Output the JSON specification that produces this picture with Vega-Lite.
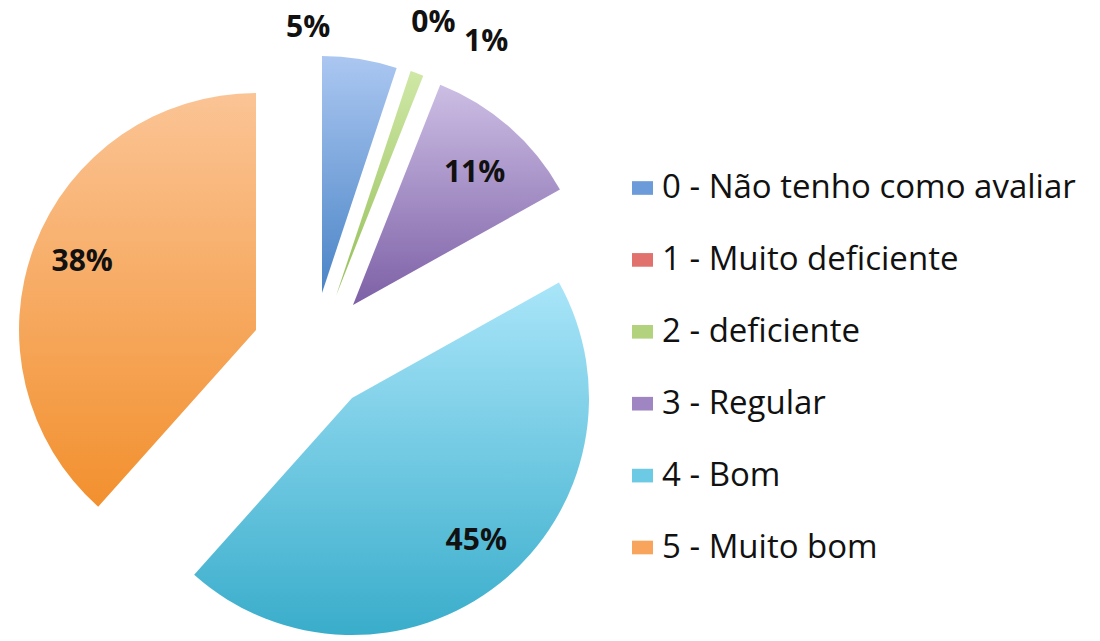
{
  "$schema": "https://vega.github.io/schema/vega-lite/v6.json",
  "width": 1100,
  "height": 641,
  "padding": 0,
  "autosize": {"type": "none"},
  "background": "white",
  "config": {"view": {"stroke": null}},
  "data": {"values": [
    {"code": 0, "cat": "0 - Não tenho como avaliar", "share": 0.051},
    {"code": 1, "cat": "1 - Muito deficiente", "share": 0.0},
    {"code": 2, "cat": "2 - deficiente", "share": 0.009},
    {"code": 3, "cat": "3 - Regular", "share": 0.109},
    {"code": 4, "cat": "4 - Bom", "share": 0.447},
    {"code": 5, "cat": "5 - Muito bom", "share": 0.384}
  ]},
  "layer": [
    {
      "mark": {"type": "point", "shape": "square", "filled": true, "opacity": 0},
      "encoding": {
        "color": {
          "field": "cat", "type": "nominal",
          "scale": {
            "domain": ["0 - Não tenho como avaliar", "1 - Muito deficiente", "2 - deficiente", "3 - Regular", "4 - Bom", "5 - Muito bom"],
            "range": ["#6b9bd8", "#e0716d", "#b3d27e", "#9f86c2", "#6ccae4", "#f8a45c"]
          },
          "legend": {
            "title": null, "orient": "none", "legendX": 626, "legendY": 171.5,
            "padding": 0,
            "symbolType": "M-1,-0.65H1V0.65H-1Z", "symbolSize": 441, "symbolOpacity": 1, "symbolStrokeWidth": 0,
            "labelFont": "Open Sans", "labelFontSize": 33, "labelColor": "#111111", "labelLimit": 600,
            "labelOffset": 3, "rowPadding": 37.9
          }
        }
      }
    },
    {
      "mark": {"type": "arc", "outerRadius": 237, "xOffset": -228, "yOffset": -27.5,
        "fill": {"gradient": "linear", "x1": 0, "y1": 0, "x2": 0, "y2": 1, "stops": [{"offset": 0, "color": "#abc7f1"}, {"offset": 1, "color": "#4a84c6"}]}},
      "encoding": {
        "theta": {"field": "share", "type": "quantitative", "stack": true},
        "order": {"field": "code", "type": "quantitative"},
        "opacity": {"condition": {"test": "datum.code === 0", "value": 1}, "value": 0}
      }
    },
    {
      "mark": {"type": "arc", "outerRadius": 237, "xOffset": -214, "yOffset": -24.5,
        "fill": {"gradient": "linear", "x1": 0, "y1": 0, "x2": 0, "y2": 1, "stops": [{"offset": 0, "color": "#cfe8a6"}, {"offset": 1, "color": "#95bf58"}]}},
      "encoding": {
        "theta": {"field": "share", "type": "quantitative", "stack": true},
        "order": {"field": "code", "type": "quantitative"},
        "opacity": {"condition": {"test": "datum.code === 2", "value": 1}, "value": 0}
      }
    },
    {
      "mark": {"type": "arc", "outerRadius": 237, "xOffset": -197, "yOffset": -15.5,
        "fill": {"gradient": "linear", "x1": 0, "y1": 0, "x2": 0, "y2": 1, "stops": [{"offset": 0, "color": "#ccbee4"}, {"offset": 1, "color": "#7d60a6"}]}},
      "encoding": {
        "theta": {"field": "share", "type": "quantitative", "stack": true},
        "order": {"field": "code", "type": "quantitative"},
        "opacity": {"condition": {"test": "datum.code === 3", "value": 1}, "value": 0}
      }
    },
    {
      "mark": {"type": "arc", "outerRadius": 237, "xOffset": -198, "yOffset": 77.5,
        "fill": {"gradient": "linear", "x1": 0, "y1": 0, "x2": 0, "y2": 1, "stops": [{"offset": 0, "color": "#a9e5f9"}, {"offset": 1, "color": "#39adcb"}]}},
      "encoding": {
        "theta": {"field": "share", "type": "quantitative", "stack": true},
        "order": {"field": "code", "type": "quantitative"},
        "opacity": {"condition": {"test": "datum.code === 4", "value": 1}, "value": 0}
      }
    },
    {
      "mark": {"type": "arc", "outerRadius": 237, "xOffset": -294, "yOffset": 9.5,
        "fill": {"gradient": "linear", "x1": 0, "y1": 0, "x2": 0, "y2": 1, "stops": [{"offset": 0, "color": "#fbc495"}, {"offset": 1, "color": "#f2902e"}]}},
      "encoding": {
        "theta": {"field": "share", "type": "quantitative", "stack": true},
        "order": {"field": "code", "type": "quantitative"},
        "opacity": {"condition": {"test": "datum.code === 5", "value": 1}, "value": 0}
      }
    },
    {
      "mark": {"type": "text", "radius": 270, "xOffset": -285, "yOffset": -26, "font": "Open Sans", "fontWeight": "bold", "fontSize": 30, "fill": "#111111"},
      "encoding": {
        "theta": {"field": "share", "type": "quantitative", "stack": true},
        "order": {"field": "code", "type": "quantitative"},
        "text": {"field": "share", "type": "quantitative", "format": ".0%"},
        "opacity": {"condition": {"test": "datum.code === 0", "value": 1}, "value": 0}
      }
    },
    {
      "mark": {"type": "text", "radius": 290, "xOffset": -208, "yOffset": -22, "font": "Open Sans", "fontWeight": "bold", "fontSize": 30, "fill": "#111111"},
      "encoding": {
        "theta": {"field": "share", "type": "quantitative", "stack": true},
        "order": {"field": "code", "type": "quantitative"},
        "text": {"field": "share", "type": "quantitative", "format": ".0%"},
        "opacity": {"condition": {"test": "datum.code === 1", "value": 1}, "value": 0}
      }
    },
    {
      "mark": {"type": "text", "radius": 290, "xOffset": -163, "yOffset": -6, "font": "Open Sans", "fontWeight": "bold", "fontSize": 30, "fill": "#111111"},
      "encoding": {
        "theta": {"field": "share", "type": "quantitative", "stack": true},
        "order": {"field": "code", "type": "quantitative"},
        "text": {"field": "share", "type": "quantitative", "format": ".0%"},
        "opacity": {"condition": {"test": "datum.code === 2", "value": 1}, "value": 0}
      }
    },
    {
      "mark": {"type": "text", "radius": 180, "xOffset": -194, "yOffset": -12, "font": "Open Sans", "fontWeight": "bold", "fontSize": 30, "fill": "#111111"},
      "encoding": {
        "theta": {"field": "share", "type": "quantitative", "stack": true},
        "order": {"field": "code", "type": "quantitative"},
        "text": {"field": "share", "type": "quantitative", "format": ".0%"},
        "opacity": {"condition": {"test": "datum.code === 3", "value": 1}, "value": 0}
      }
    },
    {
      "mark": {"type": "text", "radius": 190, "xOffset": -192.5, "yOffset": 72.5, "font": "Open Sans", "fontWeight": "bold", "fontSize": 30, "fill": "#111111"},
      "encoding": {
        "theta": {"field": "share", "type": "quantitative", "stack": true},
        "order": {"field": "code", "type": "quantitative"},
        "text": {"field": "share", "type": "quantitative", "format": ".0%"},
        "opacity": {"condition": {"test": "datum.code === 4", "value": 1}, "value": 0}
      }
    },
    {
      "mark": {"type": "text", "radius": 186, "xOffset": -294, "yOffset": 7.5, "font": "Open Sans", "fontWeight": "bold", "fontSize": 30, "fill": "#111111"},
      "encoding": {
        "theta": {"field": "share", "type": "quantitative", "stack": true},
        "order": {"field": "code", "type": "quantitative"},
        "text": {"field": "share", "type": "quantitative", "format": ".0%"},
        "opacity": {"condition": {"test": "datum.code === 5", "value": 1}, "value": 0}
      }
    }
  ]
}
